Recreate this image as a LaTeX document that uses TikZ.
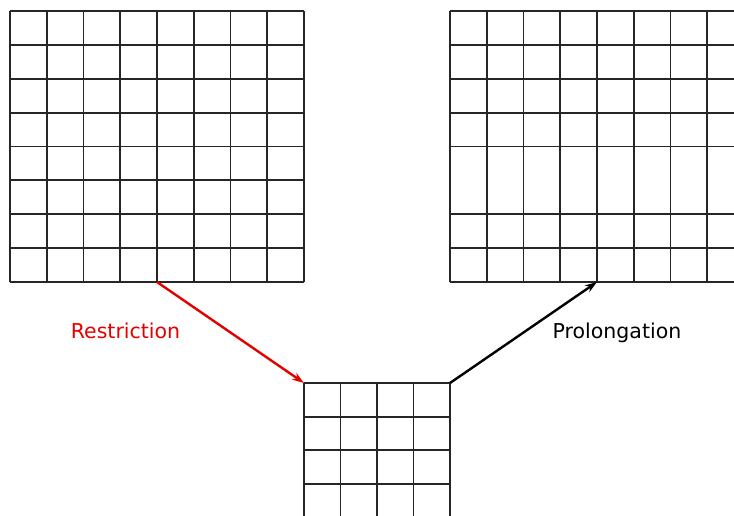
\documentclass[tikz,border=0pt]{standalone}
\usepackage{fontspec}
\setmainfont{DejaVu Sans}
\usetikzlibrary{arrows.meta}
\begin{document}
\begin{tikzpicture}[x=1pt,y=-1pt,
  gridline/.style={line width=1.9pt,black!85},
  arr/.style={line width=2.4pt,-{Stealth[length=12pt,width=8pt]}},
  lbl/.style={font=\fontsize{20.5}{24}\selectfont,inner sep=0pt}]
\useasboundingbox (0,0) rectangle (734,515);
\clip (0,0) rectangle (734,515);
% left grid
\foreach \i in {0,...,8} {
  \draw[gridline] (10+\i*36.75,11) -- (10+\i*36.75,282);
  \draw[gridline] (10,11+\i*33.875) -- (304,11+\i*33.875);
}
% right grid
\foreach \i in {0,...,8} {
  \draw[gridline] (450+\i*36.75,11) -- (450+\i*36.75,282);
}
\foreach \j in {0,1,2,3,4,6,7,8} {
  \draw[gridline] (450,11+\j*33.875) -- (760,11+\j*33.875);
}
% bottom grid
\foreach \i in {0,...,4} {
  \draw[gridline] (304+\i*36.5,383) -- (304+\i*36.5,530);
}
\foreach \j in {0,...,3} {
  \draw[gridline] (304,383+\j*33.6) -- (450,383+\j*33.6);
}
\coordinate (lbot) at (157,282);
\coordinate (btl) at (304,383);
\coordinate (btr) at (450,383);
\coordinate (rbot) at (597,282);
\draw[arr,red!90!black] (lbot) -- (btl);
\draw[arr,black] (btr) -- (rbot);
\node[lbl,text=red!90!black] (restr) at (125.5,331) {Restriction};
\node[lbl,text=black] (prol) at (617,333) {Prolongation};
\end{tikzpicture}
\end{document}
